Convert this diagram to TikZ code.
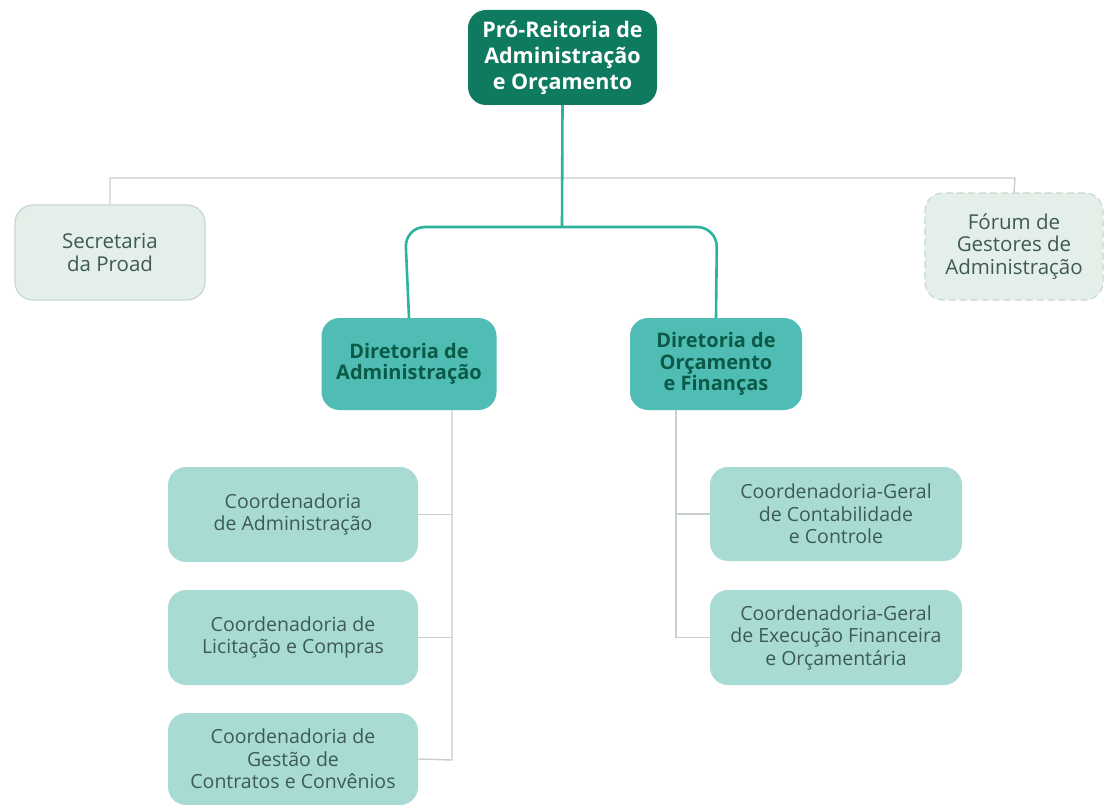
\documentclass[tikz,border=0pt]{standalone}
\usepackage{fontspec}
\setmainfont{Open Sans}
\definecolor{topfill}{HTML}{0E7A5F}
\definecolor{dirfill}{HTML}{4FBDB4}
\definecolor{dirtext}{HTML}{0B5A47}
\definecolor{coordfill}{HTML}{A9DBD5}
\definecolor{coordtext}{HTML}{3D5A55}
\definecolor{secfill}{HTML}{E3EFE8}
\definecolor{secborder}{HTML}{C9D8CF}
\definecolor{tealline}{HTML}{2DB39C}
\definecolor{grayline}{HTML}{C8D0CD}
\begin{document}
\begin{tikzpicture}[x=1pt,y=-1pt,
  box/.style={rounded corners=18pt, align=center, inner sep=0pt},
  topbox/.style={box, fill=topfill, text=white, font=\fontsize{21.5}{26}\selectfont\bfseries},
  dirbox/.style={box, fill=dirfill, text=dirtext, font=\fontsize{20}{21.5}\selectfont\bfseries},
  coordbox/.style={box, fill=coordfill, text=coordtext, font=\fontsize{19.5}{22.5}\selectfont},
  secbox/.style={box, fill=secfill, draw=secborder, line width=1.2pt, text=coordtext, font=\fontsize{20.5}{22.5}\selectfont},
  teal/.style={draw=tealline, line width=2.6pt},
  gray/.style={draw=grayline, line width=1.4pt}
]
\useasboundingbox (0,0) rectangle (1106,805);
\fill[white] (0,0) rectangle (1106,805);

% gray horizontal line and links to side boxes
\coordinate (hl) at (110,178);
\coordinate (hr) at (1015,178);

\node[secbox, minimum width=190pt, minimum height=95pt] (sec) at (110,252.5) {Secretaria\\da Proad};
\node[secbox, dashed, dash pattern=on 7pt off 4pt, minimum width=178pt, minimum height=107pt] (for) at (1014,246.5) {Fórum de\\Gestores de\\Administração};

\draw[gray] (sec.north) -- (hl) -- (hr) -- (for.north);

% top node
\node[topbox, minimum width=189pt, minimum height=95pt] (top) at (562.5,57.5) {Pró-Reitoria de\\Administração\\e Orçamento};

% directorates
\node[dirbox, minimum width=175pt, minimum height=92pt] (da) at (409,364) {Diretoria de\\Administração};
\node[dirbox, minimum width=172pt, minimum height=92pt] (dof) at (716,364) {Diretoria de\\Orçamento\\e Finanças};

\coordinate (bj) at (562,227);
\draw[teal] (top.south) -- (bj);
\draw[teal, rounded corners=20pt] (da.north) -- (405,227) -- (717,227) -- (dof.north);

% coordination boxes left
\node[coordbox, minimum width=250pt, minimum height=95pt] (c1) at (293,514.5) {Coordenadoria\\de Administração};
\node[coordbox, minimum width=250pt, minimum height=95pt] (c2) at (293,637.5) {Coordenadoria de\\Licitação e Compras};
\node[coordbox, minimum width=250pt, minimum height=92pt] (c3) at (293,759) {Coordenadoria de\\Gestão de\\Contratos e Convênios};

\coordinate (lv) at (452,410);
\draw[gray] (lv) -- (452,760) -- (c3.east);
\draw[gray] (c1.east) -- (452,514.5);
\draw[gray] (c2.east) -- (452,637.5);

% coordination boxes right
\node[coordbox, minimum width=252pt, minimum height=94pt] (g1) at (836,514) {Coordenadoria-Geral\\de Contabilidade\\e Controle};
\node[coordbox, minimum width=252pt, minimum height=95pt] (g2) at (836,637.5) {Coordenadoria-Geral\\de Execução Financeira\\e Orçamentária};

\coordinate (rv) at (676,410);
\draw[gray] (rv) -- (676,637.5) -- (g2.west);
\draw[gray] (g1.west) -- (676,514);
\end{tikzpicture}
\end{document}
